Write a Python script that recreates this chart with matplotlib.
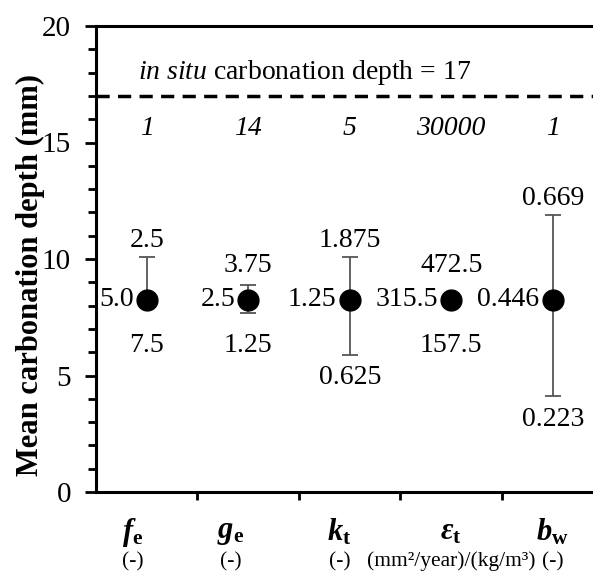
import matplotlib
matplotlib.use("Agg")
import matplotlib.pyplot as plt
from matplotlib.ticker import MultipleLocator
from matplotlib.transforms import blended_transform_factory

plt.rcParams['font.family'] = ['Liberation Serif', 'DejaVu Serif']
plt.rcParams['mathtext.fontset'] = 'custom'
plt.rcParams['mathtext.rm'] = 'Liberation Serif'
plt.rcParams['mathtext.it'] = 'Liberation Serif:italic'
plt.rcParams['mathtext.bf'] = 'Liberation Serif:bold'
plt.rcParams['mathtext.bfit'] = 'Liberation Serif:italic:bold'

# ---- data ----
params = [r'$\mathbfit{f}_\mathbf{e}$', r'$\mathbfit{g}_\mathbf{e}$', r'$\mathbfit{k}_\mathbf{t}$',
          r'$\mathbfit{\varepsilon}_\mathbf{t}$', r'$\mathbfit{b}_\mathbf{w}$']
units = ['(-)', '(-)', '(-)', '(mm²/year)/(kg/m³)', '(-)']
mean_depth = [8.25, 8.25, 8.25, 8.25, 8.25]
upper_depth = [10.1, 8.9, 10.1, 8.25, 11.9]
lower_depth = [8.25, 7.7, 5.9, 8.25, 4.1]
base_labels = ['5.0', '2.5', '1.25', '315.5', '0.446']
upper_labels = ['2.5', '3.75', '1.875', '472.5', '0.669']
lower_labels = ['7.5', '1.25', '0.625', '157.5', '0.223']
top_labels = ['1', '14', '5', '30000', '1']
insitu_depth = 17

# layout only: horizontal shift of the category name boxes
label_shift = [-0.14, -0.17, -0.10, 0.0, 0.0]

fig = plt.figure(figsize=(5.93, 5.71), dpi=100)
ax = fig.add_axes([96/593, 1-492/571, 497/593, (492-26)/571])

x = list(range(len(params)))
yerr = [[m - l for m, l in zip(mean_depth, lower_depth)],
        [u - m for m, u in zip(mean_depth, upper_depth)]]
ax.errorbar(x, mean_depth, yerr=yerr, fmt='o', color='black', ms=15,
            ecolor='#555555', elinewidth=1.3, capsize=5.5, capthick=1.3, zorder=3)

ax.axhline(insitu_depth, color='black', lw=2.5, ls=(0, (3.8, 2.4)))
ax.text(1.56, 18.0, r'$\mathit{in\ situ}$ carbonation depth = %d' % insitu_depth,
        ha='center', va='center', fontsize=20)

fs = 20
for i in x:
    ax.text(i, 15.6, top_labels[i], ha='center', va='center', fontsize=fs, style='italic')
    ax.text(i - 0.13, mean_depth[i], base_labels[i], ha='right', va='center', fontsize=fs)
    ytop = max(upper_depth[i], 9.0) + 0.7
    ax.text(i, ytop, upper_labels[i], ha='center', va='center', fontsize=fs)
    ybot = min(lower_depth[i], 7.3) - 1.0
    ax.text(i, ybot, lower_labels[i], ha='center', va='center', fontsize=fs)

ax.set_xlim(-0.5, 4.397)
ax.set_ylim(0, 20)
ax.set_xticks([])
ax.set_xticks([0.5, 1.5, 2.5, 3.5], minor=True)
ax.tick_params(axis='x', which='minor', length=6, width=2, direction='out')
ax.yaxis.set_major_locator(MultipleLocator(5))
ax.yaxis.set_minor_locator(MultipleLocator(1))
ax.tick_params(axis='y', which='major', length=8, width=2, labelsize=21, pad=10)
ax.tick_params(axis='y', which='minor', length=6, width=2)

trans = blended_transform_factory(ax.transData, ax.transAxes)
for i in x:
    ax.text(x[i] + label_shift[i], -0.086, params[i], ha='center', va='center',
            fontsize=22, transform=trans)
    ax.text(x[i] + label_shift[i], -0.149, units[i], ha='center', va='center',
            fontsize=15.5, transform=trans)

for s in ['left', 'bottom', 'top']:
    ax.spines[s].set_linewidth(2.2)
ax.spines['right'].set_visible(False)

fig.text(30/593, 1-275/571, 'Mean carbonation depth (mm)', rotation=90, ha='center', va='center',
         fontsize=22, fontweight='bold')

fig.savefig('out.png', dpi=100)
